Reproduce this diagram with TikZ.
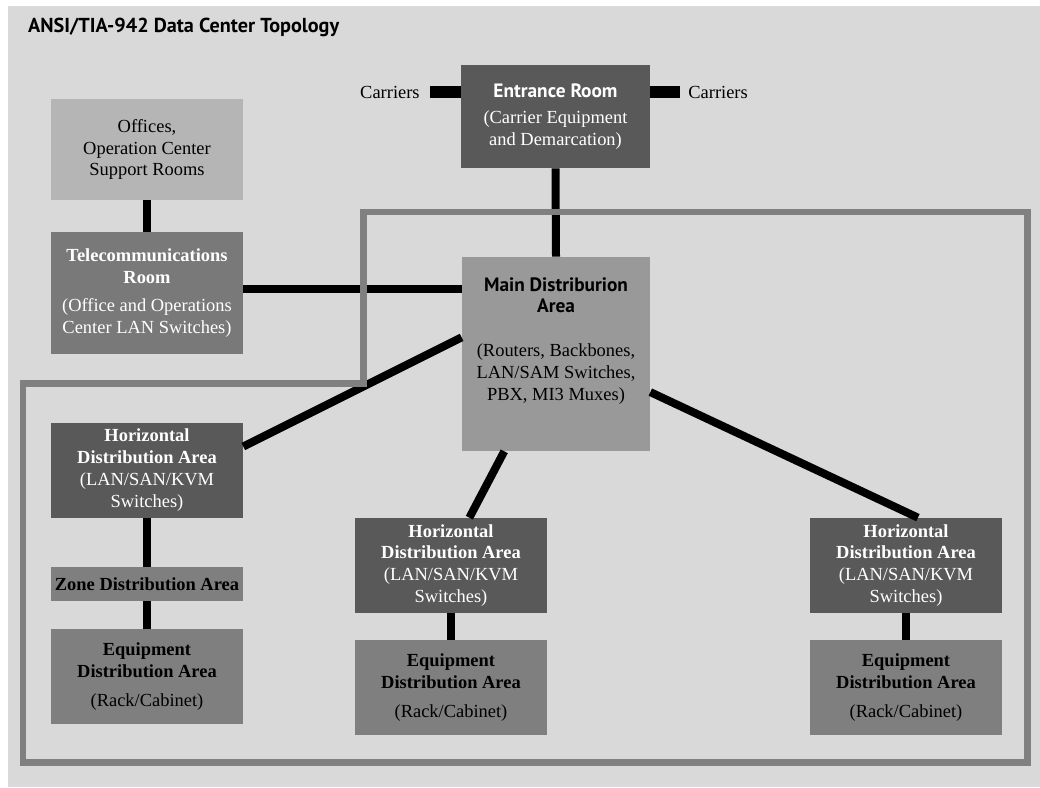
\documentclass[tikz,border=0pt]{standalone}
\usepackage{fontspec}
\setmainfont{Liberation Serif}
\setsansfont{PT Sans}
\definecolor{bgray}{HTML}{D9D9D9}
\definecolor{dgray}{HTML}{595959}
\definecolor{mgray}{HTML}{7F7F7F}
\definecolor{tgray}{HTML}{797979}
\definecolor{agray}{HTML}{999999}
\definecolor{lgray}{HTML}{B5B5B5}
\definecolor{ogray}{HTML}{808080}
\begin{document}
\begin{tikzpicture}[x=0.02cm,y=-0.02cm,
	box/.style={rectangle,inner sep=0pt,minimum width=3.84cm,minimum height=1.9cm,align=center,font=\fontsize{10.5}{12.5}\selectfont},
	darkbox/.style={box,fill=dgray,text=white},
	midbox/.style={box,fill=mgray,text=black},
	link/.style={line width=0.16cm,black},
	carrier/.style={line width=0.24cm,black},
	zone/.style={line width=0.14cm,ogray,line join=miter}]
	\def\hd{\sffamily\bfseries\fontsize{11}{13}\selectfont}
	\useasboundingbox (0,0) rectangle (1040,787);
	\fill[bgray] (8,6) rectangle (1040,787);
	\node[anchor=base west,font=\sffamily\bfseries\fontsize{11.5}{13}\selectfont] (title) at (22,33) {ANSI/TIA-942 Data Center Topology};
	% rooms
	\node[darkbox,minimum width=3.78cm,minimum height=2.06cm] (er) at (555.5,116.5) {{\hd Entrance Room}\\[2pt](Carrier Equipment\\and Demarcation)};
	\node[box,fill=lgray,minimum height=2.02cm] (off) at (147,149.5) {Offices,\\Operation Center\\Support Rooms};
	\node[box,fill=tgray,text=white,minimum height=2.44cm] (tel) at (147,293) {\textbf{Telecommunications}\\\textbf{Room}\\[3pt](Office and Operations\\Center LAN Switches)};
	\node[box,fill=agray,minimum width=3.76cm,minimum height=3.88cm] (mda) at (556,354) {{\hd Main Distriburion}\\{\hd Area}\\[12.5pt](Routers, Backbones,\\LAN/SAM Switches,\\PBX, MI3 Muxes)\rule[-17pt]{0pt}{0pt}};
	\node[anchor=east,inner xsep=0.2cm,font=\fontsize{10.5}{12.5}\selectfont] (carL) at (430,92) {Carriers};
	\node[anchor=west,inner xsep=0.16cm,font=\fontsize{10.5}{12.5}\selectfont] (carR) at (680,92) {Carriers};
	% distribution areas
	\node[darkbox] (hdal) at (147,470.5) {\textbf{Horizontal}\\\textbf{Distribution Area}\\(LAN/SAN/KVM\\Switches)};
	\node[midbox,minimum height=0.68cm] (zda) at (147,584) {\textbf{Zone Distribution Area}};
	\node[midbox] (edal) at (147,676.5) {\textbf{Equipment}\\\textbf{Distribution Area}\\[4pt](Rack/Cabinet)};
	\node[darkbox] (hdam) at (451,565.5) {\textbf{Horizontal}\\\textbf{Distribution Area}\\(LAN/SAN/KVM\\Switches)};
	\node[midbox] (edam) at (451,687.5) {\textbf{Equipment}\\\textbf{Distribution Area}\\[4pt](Rack/Cabinet)};
	\node[darkbox] (hdar) at (906,565.5) {\textbf{Horizontal}\\\textbf{Distribution Area}\\(LAN/SAN/KVM\\Switches)};
	\node[midbox] (edar) at (906,687.5) {\textbf{Equipment}\\\textbf{Distribution Area}\\[4pt](Rack/Cabinet)};
	% cabling
	\draw[carrier] (carL.east) -- (carL.east -| er.west);
	\draw[carrier] (carR.west) -- (carR.west -| er.east);
	\draw[link] (er.south) -- (mda.north);
	\draw[link] (off.south) -- (tel.north);
	\draw[link] (tel.east |- 0,289) -- (mda.west |- 0,289);
	\draw[link] (mda.170) -- (hdal.14);
	\draw[link] (mda.242) -- (hdam.69);
	\draw[link] (mda.-22) -- (hdar.76);
	\draw[link] (hdal.south) -- (zda.north);
	\draw[link] (zda.south) -- (edal.north);
	\draw[link] (hdam.south) -- (edam.north);
	\draw[link] (hdar.south) -- (edar.north);
	% computer room boundary
	\draw[zone] (363,212) -- (1027,212) -- (1027,762) -- (23,762) -- (23,383) -- (363,383) -- cycle;
\end{tikzpicture}
\end{document}
